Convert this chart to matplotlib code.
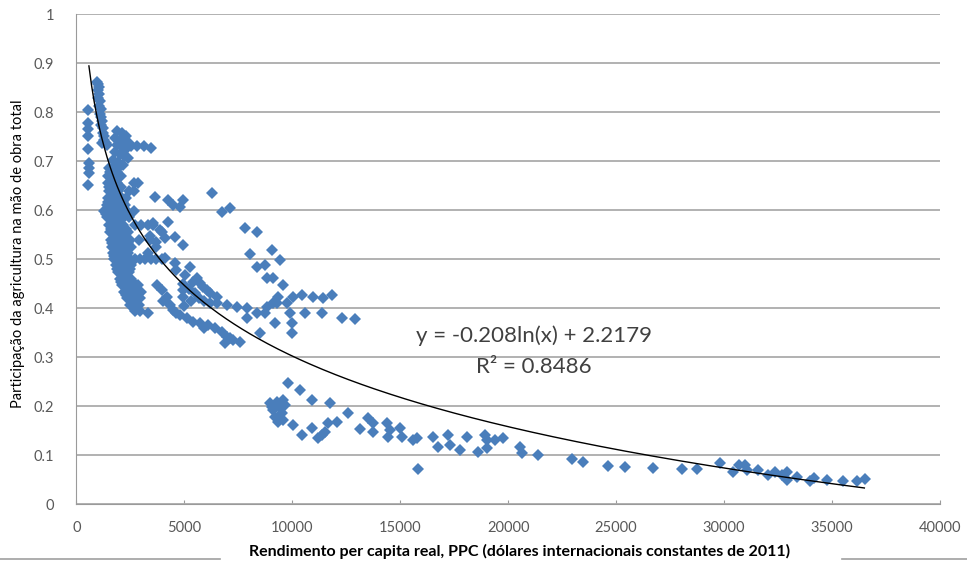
import numpy as np
import matplotlib
matplotlib.use("Agg")
import matplotlib.pyplot as plt
from matplotlib.lines import Line2D
from matplotlib.ticker import FormatStrFormatter

plt.rcParams['font.family'] = ['Lato', 'DejaVu Sans']

# ------------------ DATA ------------------
# rendimento per capita (PPC) e participacao da agricultura

left_col_x = [560, 520, 560, 530, 540, 600, 590, 580, 560]
left_col_y = [0.805, 0.778, 0.765, 0.752, 0.725, 0.697, 0.686, 0.675, 0.651]

top_band_x = [950, 1000, 1050, 980, 1050, 1020, 1100, 1060, 1130, 1100,
              1160, 1200, 1150, 1250, 1220, 1300, 1260, 1350, 1420, 1180]
top_band_y = [0.862, 0.858, 0.852, 0.845, 0.838, 0.828, 0.822, 0.812, 0.806, 0.797,
              0.79, 0.782, 0.774, 0.768, 0.758, 0.752, 0.743, 0.738, 0.732, 0.737]

upper_x = [1900, 2100, 2300, 1800, 2000, 2200, 2450, 1900, 2100, 2300, 2550,
           1800, 2000, 2200, 2400, 2800, 3150, 3450, 1700, 1950, 2150]
upper_y = [0.762, 0.758, 0.752, 0.747, 0.744, 0.741, 0.737, 0.732, 0.728, 0.724, 0.73,
           0.718, 0.714, 0.71, 0.706, 0.731, 0.73, 0.726, 0.703, 0.698, 0.692]

core_rows_y = [0.685, 0.678, 0.67, 0.655, 0.648, 0.64, 0.625, 0.617, 0.61, 0.598,
               0.592, 0.585, 0.57, 0.562, 0.555, 0.54, 0.532, 0.525, 0.512, 0.506,
               0.50, 0.487, 0.48, 0.473, 0.46, 0.453, 0.447, 0.433, 0.427, 0.42,
               0.407, 0.395, 0.39]
core_rows_x = [
    [1500, 1650, 1800, 1950],
    [1550, 1720, 1880],
    [1450, 1600, 1750, 1900, 2050],
    [1450, 1600, 1750, 1900, 2650, 2850],
    [1530, 1700, 1850, 2050],
    [1500, 1650, 1800, 1950, 2450, 2650],
    [1450, 1600, 1750, 1900, 2100, 2300],
    [1480, 1630, 1780, 1950, 2150],
    [1400, 1550, 1700, 1850, 2050, 2250],
    [1300, 1450, 1600, 1750, 1900, 2100, 2350, 2650],
    [1350, 1500, 1650, 1800, 1950],
    [1400, 1550, 1700, 1850, 2000, 2200, 2450],
    [1500, 1650, 1800, 1950, 2150, 2700, 3000, 3300, 3550],
    [1580, 1730, 1880, 2080, 2300],
    [1550, 1700, 1850, 2000, 2200, 2400],
    [1600, 1750, 1900, 2050, 2250, 2500, 2900, 3400],
    [1630, 1780, 1930, 2150, 2400],
    [1650, 1800, 1950, 2100, 2300, 2550, 3700],
    [1700, 1850, 2000, 2200, 2400, 3300],
    [1720, 1880, 2120, 2350],
    [1750, 1900, 2050, 2250, 2450, 2700, 2950, 3200, 3450, 3700, 3950],
    [1850, 2000, 2150, 2350, 2550],
    [1900, 2050, 2300, 2500],
    [1950, 2100, 2250, 2450],
    [2000, 2150, 2350, 2550],
    [2050, 2200, 2400, 2600],
    [2100, 2250, 2450, 2650, 2850],
    [2200, 2400, 2600, 2800, 3000],
    [2300, 2500, 2700],
    [2350, 2550, 2750, 2950],
    [2500, 2700, 2900],
    [2700, 2950],
    [3300],
]

mid_x = [3630, 4240, 4470, 4930, 4790, 6270, 6740, 7110,
         3550, 4240, 3950, 4100, 4560, 4930, 3870, 3400, 3700,
         7800, 8350, 8030, 9050, 9420, 8350, 8720, 8820, 9100, 9560,
         4100, 4560, 5260, 5020, 5580, 5860, 4930, 4930, 6180, 6500, 6970,
         7430, 7900, 8350, 8720, 7900, 9190, 8490, 9740, 9880, 9970, 9970,
         10030, 10440, 10950, 11410, 11830, 10580, 11370, 12290, 12890,
         9280, 9330, 4630, 5400, 5720, 6040, 6500, 8820, 9100, 4950,
         5200, 5500, 5300, 5700, 5000, 5900, 6200]
mid_y = [0.627, 0.62, 0.61, 0.62, 0.606, 0.635, 0.596, 0.604,
         0.573, 0.576, 0.555, 0.543, 0.545, 0.528, 0.559, 0.548, 0.535,
         0.563, 0.555, 0.51, 0.518, 0.498, 0.484, 0.488, 0.461, 0.461, 0.447,
         0.502, 0.492, 0.484, 0.467, 0.461, 0.443, 0.437, 0.422, 0.43, 0.41, 0.406,
         0.402, 0.40, 0.39, 0.39, 0.38, 0.369, 0.349, 0.41, 0.39, 0.369, 0.349,
         0.423, 0.427, 0.423, 0.42, 0.427, 0.39, 0.39, 0.38, 0.378,
         0.41, 0.423, 0.478, 0.453, 0.451, 0.437, 0.423, 0.402, 0.41, 0.45,
         0.44, 0.43, 0.415, 0.42, 0.405, 0.415, 0.41]

lower_x = [3730, 3960, 4190, 4330, 4470, 4790, 5120, 5400, 5720, 6090,
           6410, 6740, 6970, 7250, 7570, 6880, 4000, 4600, 5900, 7100]
lower_y = [0.447, 0.437, 0.423, 0.406, 0.396, 0.386, 0.38, 0.371, 0.369, 0.365,
           0.359, 0.351, 0.341, 0.335, 0.331, 0.329, 0.415, 0.39, 0.36, 0.338]

rich_x = [9790, 10350, 10900, 11740, 8950, 9280, 9560, 9100, 9420, 9650,
          9190, 9330, 9560, 9050, 9510, 10030, 10440, 10900, 11180, 11370,
          11500, 11650, 12060, 12570, 13130, 13500, 13730, 13730, 14380, 14520,
          14430, 14980, 15070, 15580, 15770, 15820, 16500, 16740, 17200, 17290,
          17760, 18080, 18600, 18910, 19000, 19000, 19380, 19750, 20530, 20630,
          21370, 22940, 23450, 24610, 25400, 26700, 28040, 28730, 29800, 30400,
          30680, 30960, 31050, 31560, 32020, 32340, 32670, 32900, 32900, 33360,
          33960, 34190, 34790, 35490, 36140, 36510]
rich_y = [0.247, 0.233, 0.212, 0.206, 0.206, 0.208, 0.212, 0.192, 0.196, 0.202,
          0.178, 0.167, 0.171, 0.198, 0.186, 0.161, 0.141, 0.155, 0.135, 0.141,
          0.147, 0.165, 0.167, 0.186, 0.153, 0.176, 0.165, 0.147, 0.165, 0.151,
          0.137, 0.155, 0.137, 0.131, 0.135, 0.071, 0.137, 0.116, 0.14, 0.12,
          0.11, 0.137, 0.106, 0.141, 0.131, 0.114, 0.131, 0.135, 0.116, 0.104,
          0.10, 0.092, 0.086, 0.078, 0.076, 0.073, 0.071, 0.071, 0.084, 0.065,
          0.08, 0.08, 0.069, 0.069, 0.059, 0.065, 0.059, 0.065, 0.049, 0.055,
          0.047, 0.053, 0.049, 0.047, 0.047, 0.051]

# coeficientes da linha de tendencia (mostrados no grafico)
trend_a = -0.208
trend_b = 2.2179
r2 = 0.8486
trend_range = (580, 36500)

# ------------------ PLOT ------------------

core_x = [x for row in core_rows_x for x in row]
core_y = [y for row, y in zip(core_rows_x, core_rows_y) for _ in row]

gdp = np.array(left_col_x + top_band_x + upper_x + core_x + mid_x + lower_x + rich_x, dtype=float)
share = np.array(left_col_y + top_band_y + upper_y + core_y + mid_y + lower_y + rich_y)

fig = plt.figure(figsize=(9.67, 5.67), dpi=100)
ax = fig.add_axes([0.079, 0.111, 0.893, 0.864])

ax.plot(gdp, share, linestyle='none', marker='D', markersize=5.8,
        color='#4A7EBB', markeredgewidth=0, zorder=3)

xt = np.linspace(trend_range[0], trend_range[1], 300)
ax.plot(xt, trend_a * np.log(xt) + trend_b, color='black', lw=1.0, zorder=4)

ax.set_xlim(0, 40000)
ax.set_ylim(0, 1)
ax.set_xticks(np.arange(0, 40001, 5000))
ax.set_yticks(np.arange(0, 1.01, 0.1))
ax.yaxis.set_major_formatter(FormatStrFormatter('%g'))
ax.grid(axis='y', color='#ABABAB', lw=1.3)
ax.set_axisbelow(True)
for s in ['top', 'right']:
    ax.spines[s].set_visible(False)
for s in ['left', 'bottom']:
    ax.spines[s].set_color('#9A9A9A')
ax.tick_params(axis='x', direction='in', length=3, color='#9A9A9A',
               labelsize=10.5, labelcolor='#595959', pad=12)
ax.tick_params(axis='y', length=0, labelsize=10.5, labelcolor='#595959', pad=16)

ax.text(21200, 0.343, 'y = -0.208ln(x) + 2.2179', ha='center', va='center',
        fontsize=16, color='#404040')
ax.text(21200, 0.28, 'R² = %.4f' % r2, ha='center', va='center',
        fontsize=16, color='#404040')

fig.text(0.537, 0.028, 'Rendimento per capita real, PPC (dólares internacionais constantes de 2011)',
         ha='center', va='center', fontsize=11.5, fontweight='bold')
fig.text(0.019, 0.553, 'Participação da agricultura na mão de obra total',
         ha='center', va='center', rotation=90, fontsize=10.5)

fig.add_artist(Line2D([0, 0.228], [0.014, 0.014], color='#A0A0A0', lw=1.2))
fig.add_artist(Line2D([0.871, 1.0], [0.014, 0.014], color='#A0A0A0', lw=1.2))

fig.savefig('out.png', dpi=100)
